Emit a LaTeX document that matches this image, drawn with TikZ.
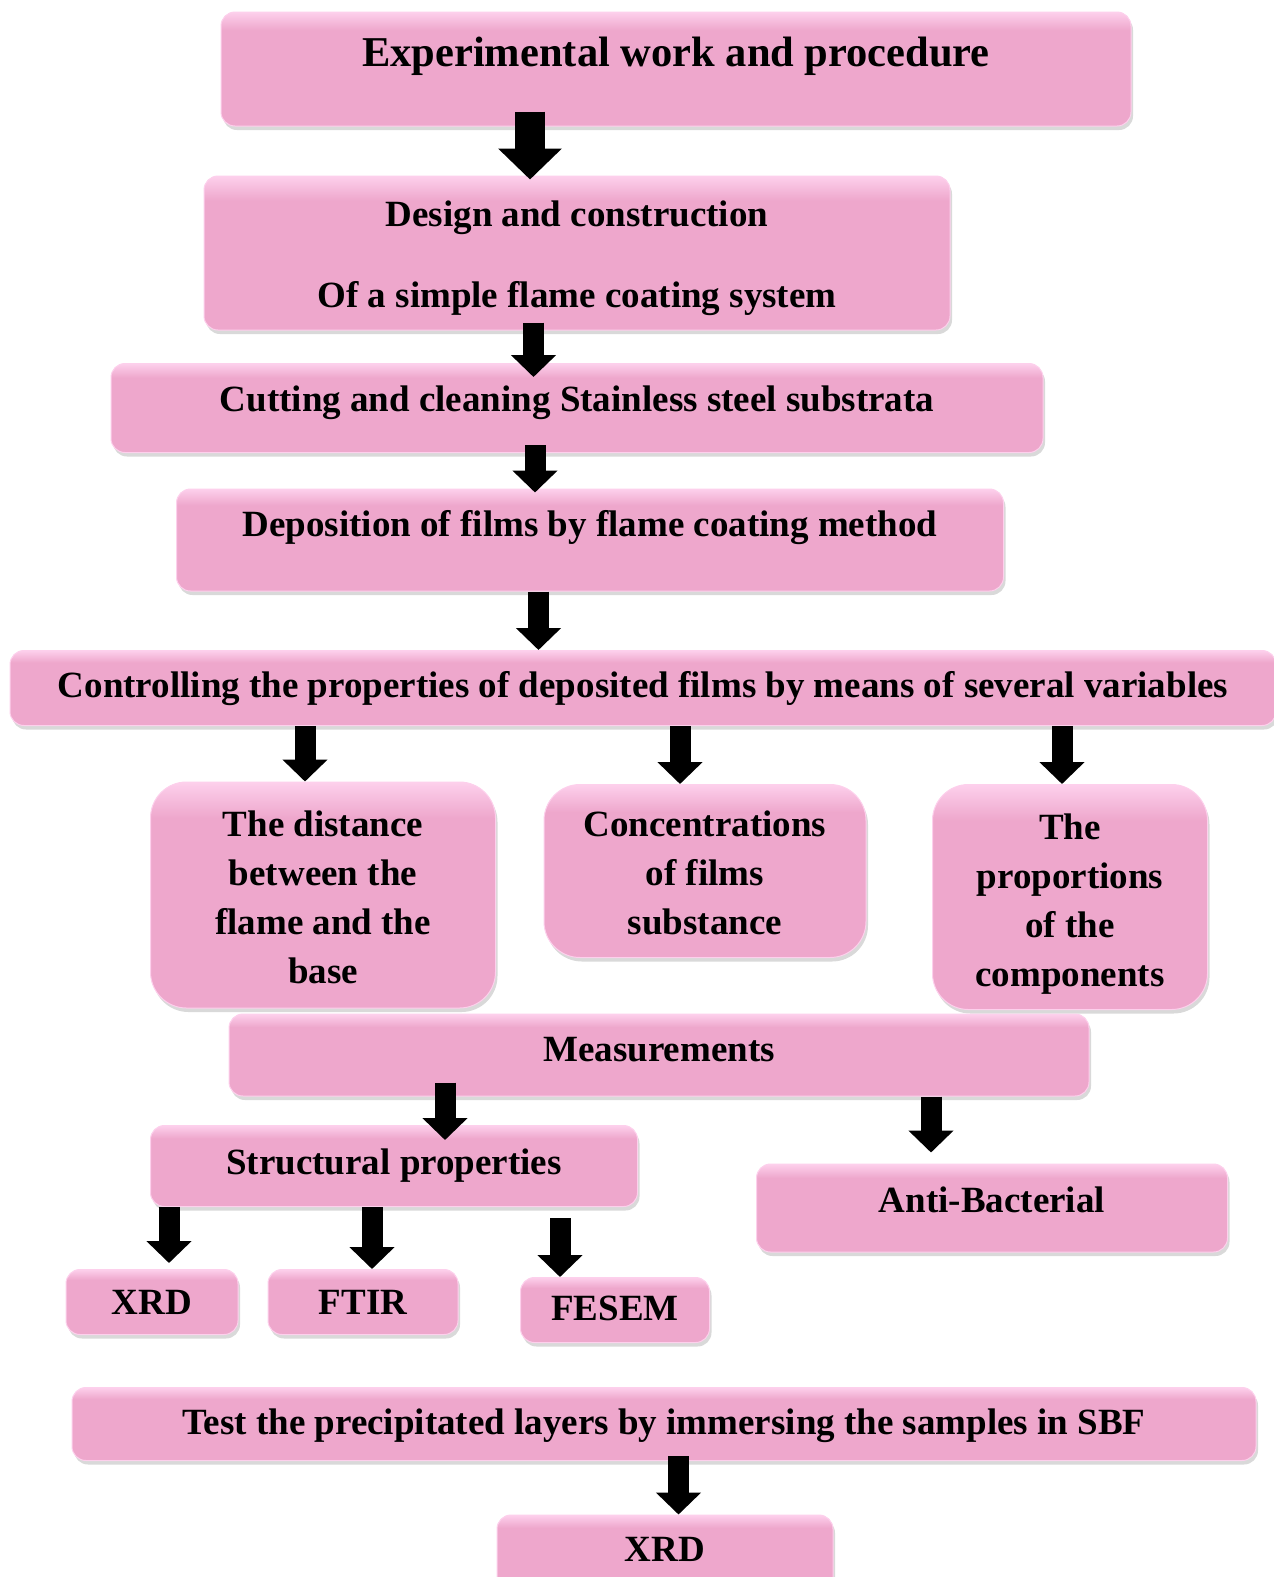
\documentclass[tikz,border=0pt]{standalone}
\usepackage{fontspec}
\setmainfont{Liberation Serif}
\usetikzlibrary{arrows.meta,shadows}
\definecolor{boxpink}{RGB}{238,167,204}
\definecolor{boxlight}{RGB}{253,208,236}
\pgfdeclareverticalshading{boxshade}{100bp}{color(0bp)=(boxpink); color(25bp)=(boxpink); color(67bp)=(boxpink); color(75bp)=(boxlight); color(100bp)=(boxlight)}

\begin{document}
\begin{tikzpicture}[x=1pt, y=-1pt,
  box/.style={shape=rectangle, rounded corners=14pt, shade, shading=boxshade, draw=boxlight, line width=1pt,
    drop shadow={opacity=0.3, shadow xshift=2pt, shadow yshift=-4pt},
    inner sep=0pt, align=center, font=\bfseries\fontsize{37}{49}\selectfont},
  oneline/.style={text height=27pt, text depth=#1},
  oneline/.default=9pt,
  roundbox/.style={box, rounded corners=36pt},
  bigarrow/.style={line width=21pt, -{Triangle[length=22pt, width=44pt]}},
  hugearrow/.style={line width=30pt, -{Triangle[length=31pt, width=62pt]}}]
\useasboundingbox (0,0) rectangle (1274,1577);
\clip (0,0) rectangle (1274,1577);

\node [box, font=\bfseries\fontsize{42.5}{50}\selectfont, text height=31pt, text depth=37pt, minimum width=910pt, minimum height=114pt] (work) at (676,69) {Experimental work and procedure};
\node [box, minimum width=746pt, minimum height=154pt] (design) at (577,253) {\rule{0pt}{36pt}Design and construction\\[32pt]Of a simple flame coating system};
\node [box, oneline=21pt, minimum width=932pt, minimum height=89pt] (cutting) at (577,408) {Cutting and cleaning Stainless steel substrata};
\node [box, oneline=35pt, minimum width=827pt, minimum height=102pt] (deposition) at (590,540) {Deposition of films by flame coating method};
\node [box, oneline, minimum width=1266pt, minimum height=75pt] (control) at (643,688) {Controlling the properties of deposited films by means of several variables};

\node [roundbox, minimum width=345pt, minimum height=226pt] (distance) at (323,895) {\rule{0pt}{30pt}The distance\\between the\\flame and the\\base};
\node [roundbox, minimum width=322pt, minimum height=173pt] (concentration) at (705,871) {\rule{0pt}{30pt}Concentrations\\of films\\substance};
\node [roundbox, minimum width=275pt, minimum height=225pt] (proportion) at (1070,897) {\rule{0pt}{39pt}The\\proportions\\of the\\components};

\node [box, oneline=15pt, minimum width=860pt, minimum height=82pt] (measure) at (659,1055) {Measurements};
\node [box, oneline=11pt, minimum width=487pt, minimum height=81pt] (structure) at (394,1166) {Structural properties};
\node [box, oneline=19pt, minimum width=471pt, minimum height=88pt] (bacteria) at (992,1208) {Anti-Bacterial};

\node [box, oneline=3pt, minimum width=172pt, minimum height=65pt] (xrdA) at (152,1302) {XRD};
\node [box, oneline=3pt, minimum width=190pt, minimum height=65pt] (ftir) at (363,1302) {FTIR};
\node [box, oneline=7pt, minimum width=189pt, minimum height=65pt] (fesem) at (615,1310) {FESEM};

\node [box, oneline=7pt, minimum width=1184pt, minimum height=73pt] (sbf) at (664,1424) {Test the precipitated layers by immersing the samples in SBF};
\node [box, oneline=15pt, minimum width=336pt, minimum height=80pt] (xrdB) at (665,1555) {XRD};

\draw[hugearrow, shorten <=-15pt, shorten >=-4pt] (530,0 |- work.south) -- (530,0 |- design.north);
\draw[bigarrow, shorten <=-8pt, shorten >=-14pt] (533.5,0 |- design.south) -- (533.5,0 |- cutting.north);
\draw[bigarrow, shorten <=-8pt, shorten >=-4pt] (535,0 |- cutting.south) -- (535,0 |- deposition.north);
\draw[bigarrow] (538.5,0 |- deposition.south) -- (538.5,0 |- control.north);
\draw[bigarrow] (305,0 |- control.south) -- (305,0 |- distance.north);
\draw[bigarrow] (680,0 |- control.south) -- (680,0 |- concentration.north);
\draw[bigarrow] (1062,0 |- control.south) -- (1062,0 |- proportion.north);
\draw[bigarrow, shorten <=-14pt, shorten >=-15pt] (445,0 |- measure.south) -- (445,0 |- structure.north);
\draw[bigarrow, shorten >=11pt] (931,0 |- measure.south) -- (931,0 |- bacteria.north);
\draw[bigarrow, shorten >=6pt] (169,0 |- structure.south) -- (169,0 |- xrdA.north);
\draw[bigarrow] (372,0 |- structure.south) -- (372,0 |- ftir.north);
\draw[bigarrow, shorten <=11pt] (560,0 |- structure.south) -- (560,0 |- fesem.north);
\draw[bigarrow, shorten <=-5pt] (678.5,0 |- sbf.south) -- (678.5,0 |- xrdB.north);
\end{tikzpicture}
\end{document}
